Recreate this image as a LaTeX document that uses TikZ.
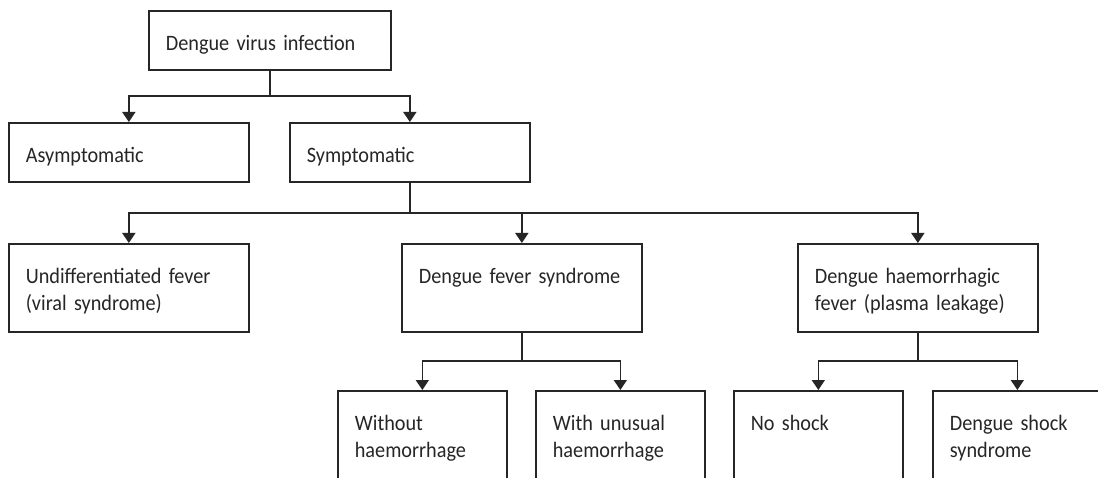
\documentclass[tikz,border=0pt]{standalone}
\usepackage{fontspec}
\setmainfont{Carlito}[FakeStretch=0.92]
\usetikzlibrary{arrows.meta,calc}
\newcommand{\bodyfont}{\fontsize{22pt}{27pt}\selectfont\hyphenpenalty=10000 }
\begin{document}
\begin{tikzpicture}[x=1pt,y=-1pt,
  frame/.style={draw=black!85, line width=1.7pt, anchor=north west, inner xsep=17pt, inner ysep=0pt,
    align=left, text height=39.5pt, font=\bodyfont, text=black!85},
  wide/.style={frame, text width=206pt},
  topbox/.style={frame, text width=208pt, text depth=19.5pt},
  midbox/.style={wide, text depth=48.5pt},
  lowbox/.style={frame, text width=135pt, text depth=60pt},
  arr/.style={draw=black!85, line width=1.7pt, -{Triangle[width=13pt,length=10pt]}},
  bus/.style={draw=black!85, line width=1.7pt}]
\clip (0,0) rectangle (1098,478);
\fill[white] (0,0) rectangle (1098,478);
\node[topbox] (top) at (148,10) {Dengue virus infection};
\node[wide, text depth=19.5pt] (asym) at (8,122) {Asymptomatic};
\node[wide, text depth=19.5pt] (symp) at (289,122) {Symptomatic};
\node[midbox] (undiff) at (8,243) {Undifferentiated fever\\(viral syndrome)};
\node[midbox] (dfs) at (401,243) {Dengue fever syndrome};
\node[midbox] (dhf) at (797,243) {Dengue haemorrhagic\\fever (plasma leakage)};
\node[lowbox] (without) at (337,390) {Without\\haemorrhage};
\node[lowbox] (unusual) at (535,390) {With unusual\\haemorrhage};
\node[lowbox] (noshock) at (733,390) {No shock};
\node[lowbox] (dss) at (932,390) {Dengue shock\\syndrome};
% level 1
\coordinate (b1) at ($(top.south)!0.5!(symp.north)$);
\draw[bus] (top.south) -- (top.south |- b1);
\draw[arr] (top.south |- b1) -| (asym.north);
\draw[arr] (top.south |- b1) -| (symp.north);
% level 2
\coordinate (b2) at ($(symp.south)!0.5!(dfs.north)$);
\draw[bus] (symp.south) -- (symp.south |- b2);
\draw[arr] (symp.south |- b2) -| (undiff.north);
\draw[arr] (symp.south |- b2) -| (dfs.north);
\draw[arr] (symp.south |- b2) -| (dhf.north);
% level 3
\coordinate (b3) at ($(dfs.south)!0.5!(without.north)$);
\draw[bus] (dfs.south) -- (dfs.south |- b3);
\draw[arr] (dfs.south |- b3) -| (without.north);
\draw[arr] (dfs.south |- b3) -| (unusual.north);
\coordinate (b4) at ($(dhf.south)!0.5!(noshock.north)$);
\draw[bus] (dhf.south) -- (dhf.south |- b4);
\draw[arr] (dhf.south |- b4) -| (noshock.north);
\draw[arr] (dhf.south |- b4) -| (dss.north);
\end{tikzpicture}
\end{document}
